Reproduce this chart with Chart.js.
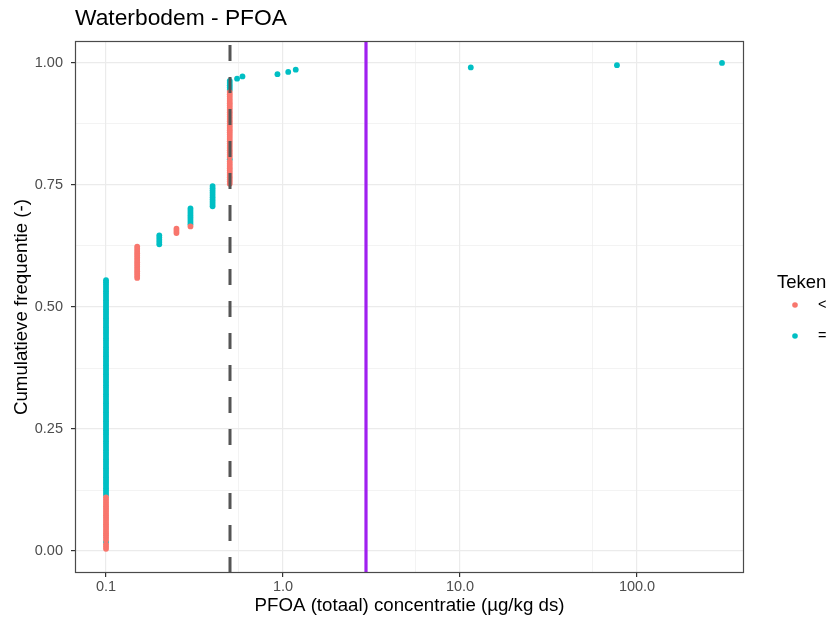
<!DOCTYPE html>
<html>
<head>
<meta charset="utf-8">
<script src="https://cdn.jsdelivr.net/npm/chart.js@4.4.1/dist/chart.umd.min.js"></script>
<style>
  body { margin: 0; background: #fff; }
</style>
</head>
<body>
<canvas id="myChart" width="835" height="620"></canvas>
<script>
// metingen per groep, gesorteerd op concentratie (µg/kg ds)
const concentratie = [0.1, 0.1, 0.1, 0.1, 0.15, 0.2, 0.25, 0.3, 0.3, 0.4, 0.5, 0.5, 0.5, 0.5, 0.55, 0.59, 0.93, 1.07, 1.18, 11.5, 77, 302];
const teken =        ['<', '=', '<', '=', '<',  '=', '<',  '<', '=', '=', '<', '=', '<', '=', '=',  '=',  '=',  '=',  '=',  '=',  '=', '='];
const aantal =       [3,   1,   20,  97,  15,   5,   3,    1,   8,   10,  11,  1,   30,  5,   1,    1,    1,    1,    1,    1,    1,   1];

const tekens = ['<', '='];
const grenswaarden = [0.5, 2.95];   // gestippelde lijn, paarse lijn

const xTicks = [0.1, 1, 10, 100];
const xTickLabels = ['0.1', '1.0', '10.0', '100.0'];
const xMinor = [0.56, 5.6, 56];
const yTicks = [0, 0.25, 0.5, 0.75, 1];
const yMinor = [0.125, 0.375, 0.625, 0.875];

// cumulatieve frequentie over alle metingen
let n = aantal.reduce((a, b) => a + b, 0);
let punten = { '<': [], '=': [] };
let rang = 0;
concentratie.forEach((c, i) => {
    for (let k = 0; k < aantal[i]; k++) {
        rang++;
        punten[teken[i]].push({ x: c, y: rang / n });
    }
});

const kleuren = { '<': '#F8766D', '=': '#00BFC4' };
const lettertype = '"Liberation Sans", Arial, sans-serif';

let extra = {
    id: 'extra',
    afterDatasetsDraw(chart) {
        let ctx = chart.ctx;
        let xs = chart.scales.x;
        let a = chart.chartArea;
        ctx.save();
        // x = 0.5, gestippeld
        let x1 = Math.round(xs.getPixelForValue(grenswaarden[0]));
        ctx.strokeStyle = '#555555';
        ctx.lineWidth = 3;
        ctx.setLineDash([16, 16]);
        ctx.beginPath();
        ctx.moveTo(x1, a.bottom);
        ctx.lineTo(x1, a.top);
        ctx.stroke();
        // paarse lijn
        let x2 = Math.round(xs.getPixelForValue(grenswaarden[1]));
        ctx.setLineDash([]);
        ctx.strokeStyle = '#A020F0';
        ctx.lineWidth = 3.2;
        ctx.beginPath();
        ctx.moveTo(x2, a.bottom);
        ctx.lineTo(x2, a.top);
        ctx.stroke();
        ctx.restore();
    },
    afterDraw(chart) {
        let ctx = chart.ctx;
        let a = chart.chartArea;
        ctx.save();
        ctx.strokeStyle = '#4a4a4a';
        ctx.lineWidth = 1.2;
        ctx.strokeRect(a.left + 0.5, a.top + 0.5, a.right - a.left - 1, a.bottom - a.top - 1);

        ctx.fillStyle = '#000000';
        ctx.textBaseline = 'middle';
        ctx.font = '22.8px ' + lettertype;
        ctx.fillText('Waterbodem - PFOA', 75, 19);

        ctx.font = '18.5px ' + lettertype;
        ctx.fillText('Teken', 777, 283);
        tekens.forEach((t, i) => {
            let y = 305 + i * 31;
            ctx.fillStyle = kleuren[t];
            ctx.beginPath();
            ctx.arc(795, y, 2.8, 0, Math.PI * 2);
            ctx.fill();
            ctx.fillStyle = '#000000';
            ctx.font = '14.5px ' + lettertype;
            ctx.fillText(t, 818, y);
        });
        ctx.restore();
    }
};

let ctx = document.getElementById('myChart').getContext('2d');
let myChart = new Chart(ctx, {
    type: 'scatter',
    data: {
        datasets: tekens.map(t => ({
            label: t,
            data: punten[t],
            backgroundColor: kleuren[t],
            borderWidth: 0,
            pointRadius: 2.9,
            pointHoverRadius: 2.9
        }))
    },
    options: {
        responsive: false,
        animation: false,
        devicePixelRatio: 1,
        layout: { padding: { left: 0, right: 91, top: 41, bottom: 0 } },
        plugins: {
            legend: { display: false },
            tooltip: { enabled: false }
        },
        scales: {
            x: {
                type: 'logarithmic',
                min: 0.0668,
                max: 402,
                afterBuildTicks: s => {
                    s.ticks = [...xTicks, ...xMinor].sort((p, q) => p - q).map(v => ({ value: v }));
                },
                afterFit: s => { s.height = 47; },
                border: { display: false },
                grid: {
                    color: c => '#ebebeb',
                    lineWidth: c => xTicks.includes(c.tick.value) ? 1.2 : 0.6,
                    tickColor: c => xTicks.includes(c.tick.value) ? '#333333' : 'rgba(0,0,0,0)',
                    tickLength: 4
                },
                ticks: {
                    autoSkip: false,
                    maxRotation: 0,
                    padding: 1,
                    color: '#4d4d4d',
                    font: { family: lettertype, size: 14.5 },
                    callback: value => {
                        let i = xTicks.indexOf(value);
                        return i >= 0 ? xTickLabels[i] : '';
                    }
                },
                title: {
                    display: true,
                    text: 'PFOA (totaal) concentratie (µg/kg ds)',
                    color: '#000000',
                    font: { family: lettertype, size: 18.7 },
                    padding: { top: 0, bottom: 3 }
                }
            },
            y: {
                type: 'linear',
                min: -0.045,
                max: 1.045,
                afterBuildTicks: s => {
                    s.ticks = [...yTicks, ...yMinor].sort((p, q) => p - q).map(v => ({ value: v }));
                },
                afterFit: s => { s.width = 75; },
                border: { display: false },
                grid: {
                    color: c => '#ebebeb',
                    lineWidth: c => yTicks.includes(c.tick.value) ? 1.2 : 0.6,
                    tickColor: c => yTicks.includes(c.tick.value) ? '#333333' : 'rgba(0,0,0,0)',
                    tickLength: 4
                },
                ticks: {
                    autoSkip: false,
                    padding: 8,
                    color: '#4d4d4d',
                    font: { family: lettertype, size: 14.5 },
                    callback: value => yTicks.includes(value) ? value.toFixed(2) : ''
                },
                title: {
                    display: true,
                    text: 'Cumulatieve frequentie (-)',
                    color: '#000000',
                    font: { family: lettertype, size: 18.7 },
                    padding: { top: 11, bottom: 0 }
                }
            }
        }
    },
    plugins: [extra]
});
</script>
</body>
</html>
